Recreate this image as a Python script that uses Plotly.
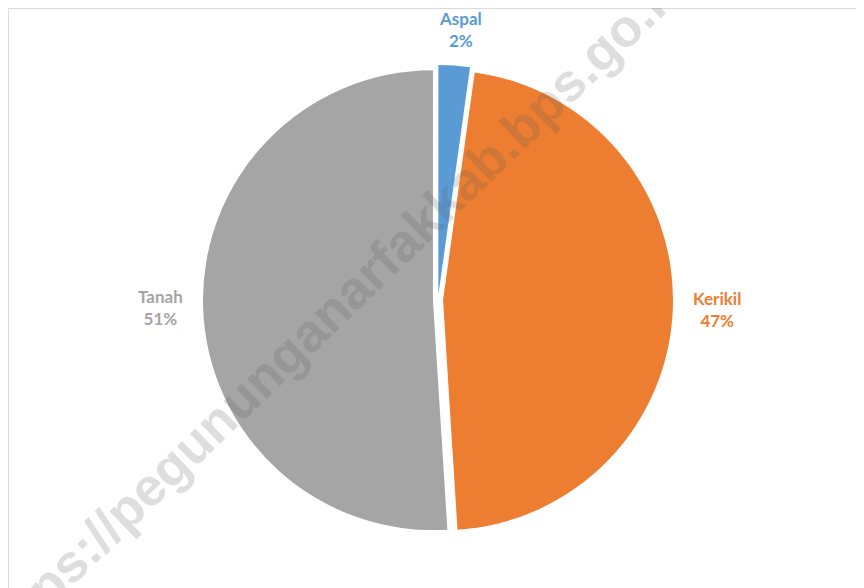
"""Pie chart of road surface types (Aspal / Kerikil / Tanah) with BPS watermark."""

import math

import plotly.graph_objects as go

# data
labels = ["Aspal", "Kerikil", "Tanah"]
values = [2.2, 46.8, 51.0]
colors = ["#5B9BD5", "#ED7D31", "#A5A5A5"]

WATERMARK = "https://pegununganarfakkab.bps.go.id"

# the page body has an 8px margin, so the figure is sized to the visible area
W, H = 856, 580
L, R, T, B = 195, 191, 57, 53
PW, PH = W - L - R, H - T - B
PULL = 0.022
RADIUS = PW / (2 + 2 * PULL)
CX, CY = L + PW / 2, T + PH / 2


def px_x(x):
    return (x - L) / PW


def px_y(y):
    return (H - B - y) / PH


fig = go.Figure(
    go.Pie(
        labels=labels,
        values=values,
        sort=False,
        direction="clockwise",
        rotation=0,
        pull=[PULL] * len(values),
        marker=dict(colors=colors, line=dict(width=0)),
        textinfo="none",
        showlegend=False,
        hoverinfo="skip",
    )
)

# outside labels, placed along each slice's middle angle
total = sum(values)
cum = 0.0
annotations = []
for lab, val, col in zip(labels, values, colors):
    mid = (cum + val / 2) / total * 2 * math.pi
    cum += val
    dx, dy = math.sin(mid), math.cos(mid)
    side = abs(dx) > abs(dy)
    rl = RADIUS * (1.1 if side else 1.075)
    x, y = CX + dx * rl, CY - dy * rl
    if side:
        xa, ya = ("left" if dx > 0 else "right"), "middle"
    else:
        xa, ya = "center", ("bottom" if dy > 0 else "top")
        x += 5
    annotations.append(
        dict(
            text=f"<b>{lab}<br>{round(val / total * 100)}%</b>",
            xref="paper",
            yref="paper",
            x=px_x(x),
            y=px_y(y),
            xanchor=xa,
            yanchor=ya,
            showarrow=False,
            align="center",
            font=dict(family="Lato", size=17, color=col),
        )
    )

annotations.append(
    dict(
        text=WATERMARK,
        xref="paper",
        yref="paper",
        x=px_x(324),
        y=px_y(301),
        xanchor="center",
        yanchor="middle",
        textangle=-44,
        showarrow=False,
        font=dict(family="Liberation Sans", size=53, weight="bold",
                  color="rgba(90,90,90,0.2)"),
    )
)

fig.update_layout(
    width=W,
    height=H,
    margin=dict(l=L, r=R, t=T, b=B),
    paper_bgcolor="white",
    plot_bgcolor="white",
    shapes=[
        dict(
            type="rect",
            xref="paper",
            yref="paper",
            x0=px_x(0.5),
            x1=px_x(W + 10),
            y0=px_y(H + 10),
            y1=px_y(0.5),
            line=dict(color="#D9D9D9", width=1),
            fillcolor="rgba(0,0,0,0)",
        )
    ],
    annotations=annotations,
)

fig.write_html("out.html")
